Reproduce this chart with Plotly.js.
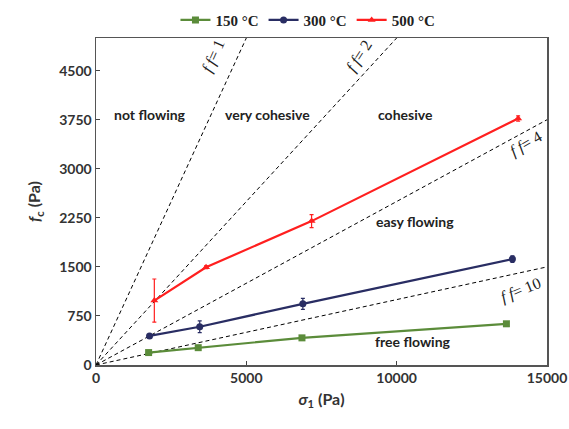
<!DOCTYPE html>
<html>
<head>
<meta charset="utf-8">
<script src="https://cdn.plot.ly/plotly-3.0.1.min.js"></script>
<style>html,body{margin:0;padding:0;background:#fff;}#chart{width:569px;height:429px;}</style>
</head>
<body>
<div id="chart"></div>
<script>
// Data
const seriesNames = ['150 °C', '300 °C', '500 °C'];
const sigma150 = [1750, 3400, 6850, 13650];
const fc150 = [190, 265, 415, 630];
const err150 = [15, 15, 15, 20];
const sigma300 = [1780, 3450, 6880, 13850];
const fc300 = [445, 585, 935, 1620];
const err300 = [20, 90, 85, 50];
const sigma500 = [1940, 3660, 7170, 14040];
const fc500 = [985, 1495, 2200, 3770];
const err500 = [330, 20, 100, 40];
const xTickVals = [0, 5000, 10000, 15000];
const xTickText = ['0', '5000', '10000', '15000'];
const yTickVals = [0, 750, 1500, 2250, 3000, 3750, 4500];
const ffValues = [1, 2, 4, 10];
const ffLabelPos = [[3900, 4730], [8750, 4730], [14300, 3380], [14150, 1140]];
const ffLabelAngle = [-66, -57, -30, -22];
const regionNames = ['not flowing', 'very cohesive', 'cohesive', 'easy flowing', 'free flowing'];
const regionPos = [[1800, 3830], [5700, 3830], [10300, 3830], [10600, 2190], [10550, 360]];
const xMax = 15000, yMax = 5000;

const colors = ['#5b8c3a', '#292d63', '#ff1f1f'];
const symbols = ['square', 'circle', 'triangle-up'];
const xs = [sigma150, sigma300, sigma500];
const ys = [fc150, fc300, fc500];
const es = [err150, err300, err500];

const traces = [];
ffValues.forEach(ff => {
  const xEnd = Math.min(xMax, yMax * ff);
  traces.push({
    x: [0, xEnd], y: [0, xEnd / ff], mode: 'lines', showlegend: false, hoverinfo: 'skip',
    line: {color: '#000', width: 1, dash: '4px,3px'}
  });
});
seriesNames.forEach((n, i) => {
  traces.push({
    x: xs[i], y: ys[i], name: '<b>' + n + '</b>', mode: 'lines+markers',
    line: {color: colors[i], width: 2.2},
    marker: {color: colors[i], symbol: symbols[i], size: 7},
    error_y: {type: 'data', array: es[i], visible: true, color: colors[i], thickness: 1.2, width: 2}
  });
});

const annotations = [];
ffValues.forEach((ff, i) => {
  annotations.push({
    x: ffLabelPos[i][0], y: ffLabelPos[i][1], xref: 'x', yref: 'y', showarrow: false,
    text: '<i>f f</i>= ' + ff, textangle: ffLabelAngle[i],
    font: {family: 'Liberation Serif', size: 16, color: '#222'}
  });
});
regionNames.forEach((t, i) => {
  annotations.push({
    x: regionPos[i][0], y: regionPos[i][1], xref: 'x', yref: 'y', showarrow: false,
    text: '<b>' + t + '</b>', font: {family: 'Lato', size: 14, color: '#222'}
  });
});

const layout = {
  width: 569, height: 429,
  margin: {l: 96, r: 22, t: 38, b: 64, autoexpand: false},
  paper_bgcolor: '#fff', plot_bgcolor: '#fff',
  font: {family: 'Lato', color: '#333'},
  showlegend: true,
  legend: {orientation: 'h', x: 0.47, xanchor: 'center', y: 1.105, yanchor: 'top',
    font: {family: 'Liberation Serif', size: 15, color: '#222'}, itemwidth: 30},
  xaxis: {
    range: [0, xMax], tickvals: xTickVals, ticktext: xTickText, ticks: 'inside', ticklen: 4,
    showgrid: false, zeroline: false, showline: true, linecolor: '#555', linewidth: 1.5, mirror: true,
    tickfont: {family: 'Lato', size: 14, color: '#333', weight: 'bold'},
    title: {text: '<b><i>σ</i><sub>1</sub> (Pa)</b>', font: {family: 'Lato', size: 16, color: '#333'}, standoff: 8}
  },
  yaxis: {
    range: [0, yMax], tickvals: yTickVals, ticks: 'inside', ticklen: 4,
    showgrid: false, zeroline: false, showline: true, linecolor: '#555', linewidth: 1.5, mirror: true,
    tickfont: {family: 'Lato', size: 14, color: '#333', weight: 'bold'},
    title: {text: '<b><i>f</i><sub>c</sub> (Pa)</b>', font: {family: 'Lato', size: 16, color: '#333'}, standoff: 14}
  },
  annotations: annotations
};

Plotly.newPlot('chart', traces, layout, {displayModeBar: false, staticPlot: true});
</script>
</body>
</html>
